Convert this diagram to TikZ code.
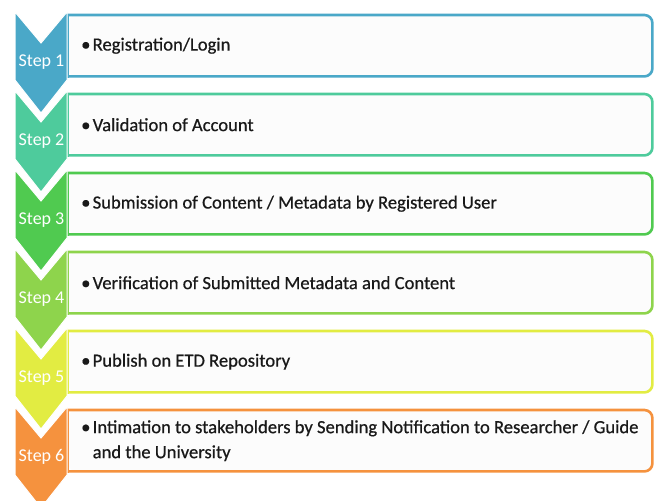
\documentclass[tikz,border=0pt]{standalone}
\usepackage{fontspec}
\setmainfont{Carlito}
\newfontfamily\itemfont{Carlito}[FakeBold=0.6]
\begin{document}
\definecolor{cA}{RGB}{74,168,200}
\definecolor{cB}{RGB}{78,203,156}
\definecolor{cC}{RGB}{80,202,80}
\definecolor{cD}{RGB}{142,212,76}
\definecolor{cE}{RGB}{226,236,66}
\definecolor{cF}{RGB}{245,146,62}
\definecolor{txt}{RGB}{25,25,25}
\definecolor{boxfill}{RGB}{252,252,252}
\newcommand{\bul}{\makebox[11.5pt][l]{•}}
\begin{tikzpicture}[x=1pt,y=-1pt,
  boxbody/.style={fill=boxfill, minimum width=584pt, minimum height=61pt,
    inner sep=0pt, anchor=north west, rounded corners=8pt},
  boxline/.style={draw=#1, line width=2.6pt, rounded corners=8pt, line cap=rect},
  item/.style={anchor=west, align=left, text=txt, inner sep=0pt,
    font=\itemfont\fontsize{18.6}{25}\selectfont},
  steplabel/.style={text=white, inner sep=0pt, font=\fontsize{18}{20}\selectfont},
  chev/.style={fill=#1, draw=white, line width=1pt, line join=miter}]
\useasboundingbox (0,0) rectangle (657,501);
\begin{scope}
\clip (0,0) rectangle (657,501);
% rows: top of each chevron is 12 + 79*(i-1)
\foreach \i/\c/\t in {1/cA/12,2/cB/91,3/cC/170,4/cD/249,5/cE/328,6/cF/407}{
  \node[boxbody] (b\i) at (68,\t+3) {};
  \draw[boxline=\c] (b\i.north west) -- (b\i.north east) -- (b\i.south east) -- (b\i.south west);
  \draw[boxline=\c, rounded corners=0pt] (b\i.north west) -- (b\i.south west);
  \fill[chev=\c] (15,\t) -- (41,\t+31) -- (67,\t) -- (67,\t+68)
     -- (41,\t+101) -- (15,\t+68) -- cycle;
  \node[steplabel] (s\i) at (41.5,\t+50) {Step \i};
}
\end{scope}
\node[item] (t1) at ([xshift=13pt]b1.west) {\bul Registration/Login};
\node[item] (t2) at ([xshift=13pt]b2.west) {\bul Validation of Account};
\node[item] (t3) at ([xshift=13pt]b3.west) {\bul Submission of Content / Metadata by Registered User};
\node[item] (t4) at ([xshift=13pt]b4.west) {\bul Verification of Submitted Metadata and Content};
\node[item] (t5) at ([xshift=13pt]b5.west) {\bul Publish on ETD Repository};
\node[item] (t6) at ([xshift=13pt]b6.west) {\bul Intimation to stakeholders by Sending Notification to Researcher / Guide\\\hspace*{11.5pt}and the University};
\end{tikzpicture}
\end{document}
